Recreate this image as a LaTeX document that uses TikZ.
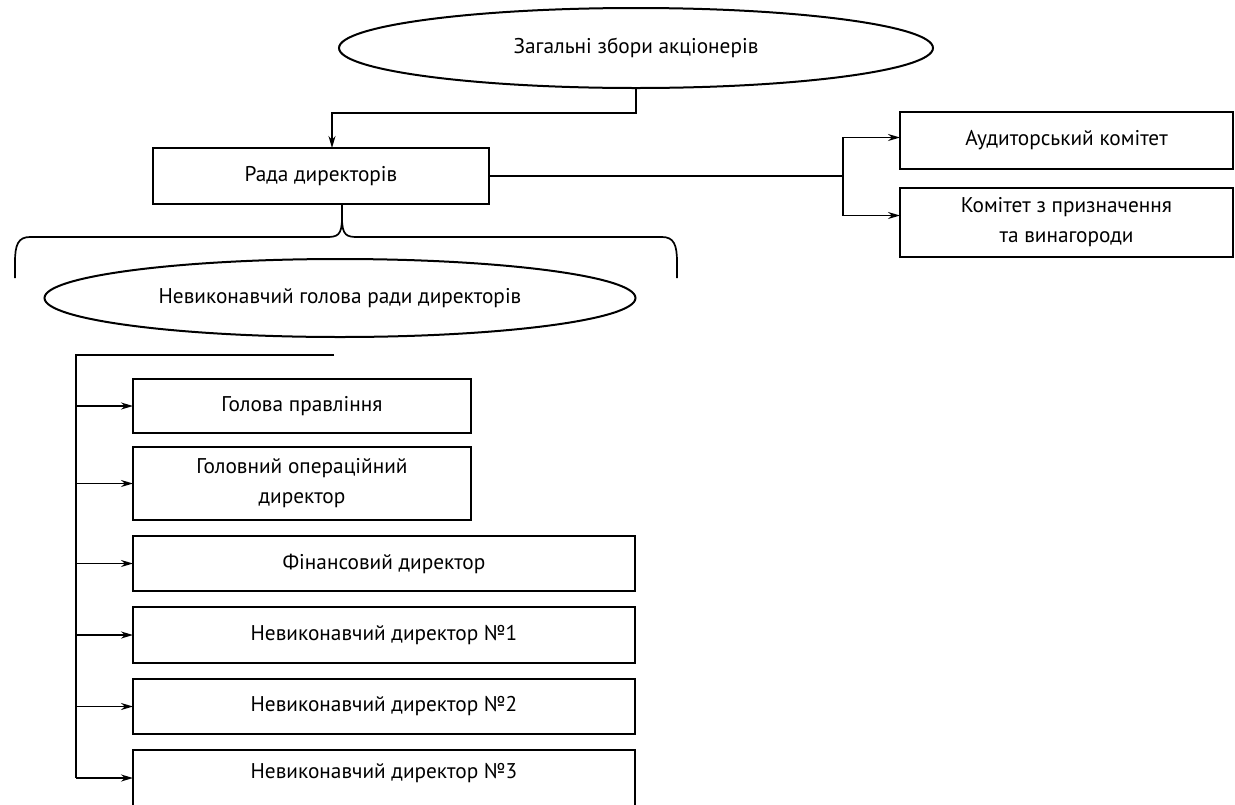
\documentclass[tikz,border=0pt]{standalone}
\usepackage{fontspec}
\setmainfont{PT Sans}
\usetikzlibrary{arrows.meta,positioning,shapes.geometric}
\newcommand{\orgfont}{\fontsize{21.3}{30}\selectfont}
\tikzset{
  oval/.style={
    ellipse,
    draw,
    line width=2pt,
    inner sep=0pt,
    font=\orgfont
  },
  unit/.style={
    draw,
    line width=2.7pt,
    align=center,
    inner sep=0pt,
    outer sep=0pt,
    font=\orgfont
  },
  conn/.style={
    line width=1.7pt
  },
  arrow/.style={
    conn,
    -{Stealth[length=12pt,width=7pt]}
  }
}

\begin{document}
\begin{tikzpicture}[x=1pt,y=-1pt]
\useasboundingbox (0,0) rectangle (1235,804);

% ovals
\node[oval,minimum width=594pt,minimum height=80pt] (meet) at (636,48) {Загальні збори акціонерів};
\node[oval,minimum width=591pt,minimum height=78pt] (chair) at (340,298) {Невиконавчий голова ради директорів};

% board and committees
\node[unit,anchor=north west,minimum width=336pt,minimum height=56pt] (rada) at (153,148) {Рада директорів};
\node[unit,anchor=north west,minimum width=333pt,minimum height=57pt] (audit) at (900,112) {Аудиторський комітет};
\node[unit,anchor=north west,minimum width=333pt,minimum height=69pt] (nom) at (900,188) {Комітет з призначення\\та винагороди};

% executives
\node[unit,anchor=north west,minimum width=338pt,minimum height=54pt] (b1) at (133,379) {Голова правління};
\node[unit,below=14pt of b1.south west,anchor=north west,minimum width=338pt,minimum height=73pt] (b2) {Головний операційний\\директор};
\node[unit,below=16pt of b2.south west,anchor=north west,minimum width=502pt,minimum height=55pt] (b3) {Фінансовий директор};
\node[unit,below=16pt of b3.south west,anchor=north west,minimum width=502pt,minimum height=56pt] (b4) {Невиконавчий директор №1};
\node[unit,below=16pt of b4.south west,anchor=north west,minimum width=502pt,minimum height=55pt] (b5) {Невиконавчий директор №2};
\node[unit,below=16pt of b5.south west,anchor=north west,minimum width=502pt,minimum height=56pt,
      text depth=14pt] (b6) {Невиконавчий директор №3};

% connectors
\draw[arrow] (meet.south) -- (meet.south |- 0,113) -| ([xshift=11pt]rada.north);

\coordinate (split) at (843,176);
\draw[conn] (rada.east) -- (split);
\draw[arrow] (split) |- ([yshift=3pt]audit.west);
\draw[arrow] (split) |- ([yshift=7pt]nom.west);

% brace under the board
\coordinate (tip) at ([xshift=21pt]rada.south);
\draw[conn] (tip) -- (342,218) .. controls (342,236) and (337,237) .. (326,237) -- (30,237) .. controls (18,237) and (15,245) .. (15,262) -- (15,278);
\draw[conn] (342,218) .. controls (342,236) and (347,237) .. (358,237) -- (662,237) .. controls (674,237) and (677,245) .. (677,262) -- (677,278);

% bus to executives
\coordinate (bus) at (76,355);
\coordinate (busend) at (334,355);
\draw[conn] (busend) -- (bus) -- (bus |- 0,778);
\foreach \b in {b1,b2,b3,b4,b5}
  \draw[arrow] (bus |- \b.west) -- (\b.west);
\draw[arrow] (bus |- 0,778) -- (b6.west |- 0,778);
\end{tikzpicture}
\end{document}
